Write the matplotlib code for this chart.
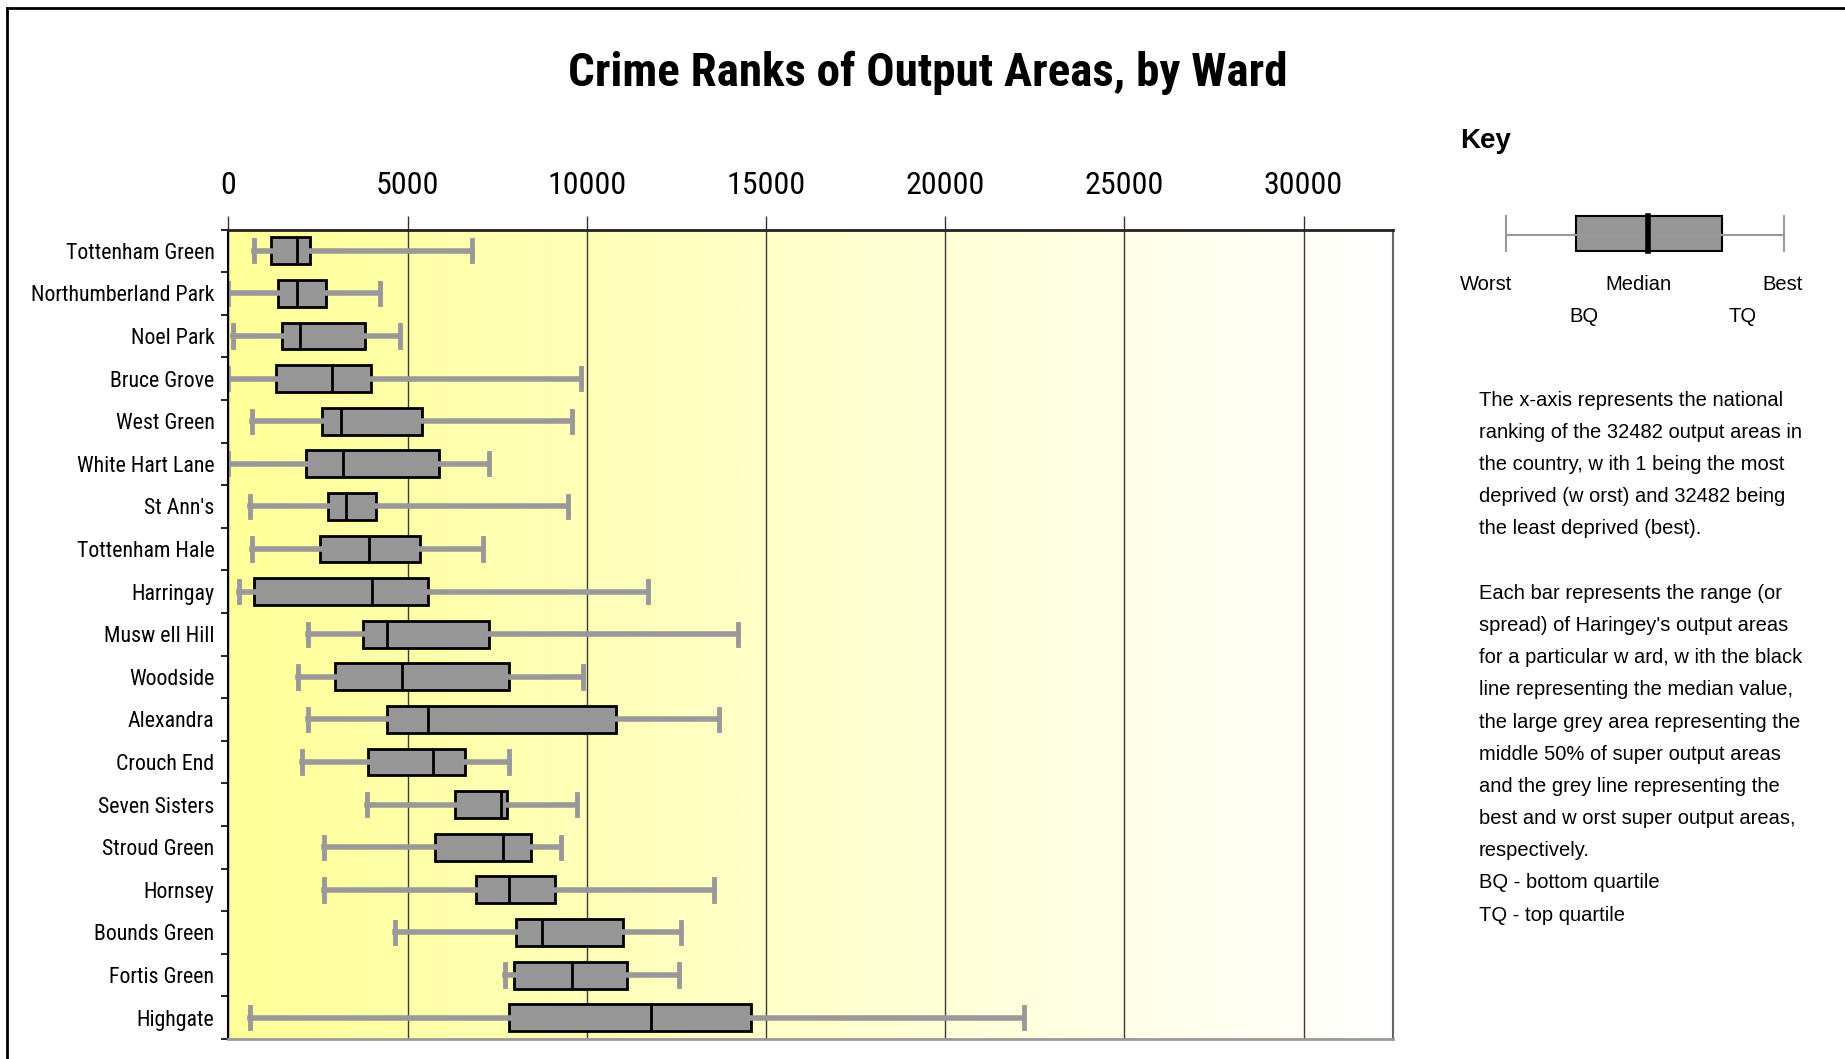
import os
import numpy as np
import matplotlib
matplotlib.use("Agg")
import matplotlib.pyplot as plt
from matplotlib import font_manager
from matplotlib.font_manager import FontProperties
from matplotlib.colors import LinearSegmentedColormap
from matplotlib.lines import Line2D
from matplotlib.patches import Rectangle

# Donnees (rangs nationaux, 1 = le pire)
wards = ["Tottenham Green", "Northumberland Park", "Noel Park", "Bruce Grove",
         "West Green", "White Hart Lane", "St Ann's", "Tottenham Hale",
         "Harringay", "Musw ell Hill", "Woodside", "Alexandra", "Crouch End",
         "Seven Sisters", "Stroud Green", "Hornsey", "Bounds Green",
         "Fortis Green", "Highgate"]
worst = [720, 1, 140, 1, 660, 1, 610, 670, 310, 2210, 1950, 2210, 2060,
         3870, 2670, 2670, 4640, 7730, 610]
bq = [1185, 1385, 1485, 1335, 2620, 2158, 2782, 2570, 711, 3755, 2982,
      4429, 3905, 6324, 5762, 6898, 8040, 7982, 7832]
median = [1909, 1909, 1996, 2882, 3144, 3194, 3294, 3918, 4017, 4417,
          4841, 5565, 5714, 7620, 7670, 7832, 8756, 9579, 11800]
tq = [2271, 2732, 3818, 3968, 5415, 5876, 4117, 5352, 5565, 7265, 7832,
      10826, 6598, 7783, 8456, 9117, 11025, 11125, 14576]
best = [6812, 4242, 4803, 9844, 9594, 7274, 9482, 7112, 11703, 14210,
        9890, 13700, 7832, 9740, 9270, 13540, 12625, 12565, 22207]
xticks = [0, 5000, 10000, 15000, 20000, 25000, 30000]
n_areas = 32482

notes = ["The x-axis represents the national",
         "ranking of the 32482 output areas in",
         "the country, w ith 1 being the most",
         "deprived (w orst) and 32482 being",
         "the least deprived (best).",
         "",
         "Each bar represents the range (or",
         "spread) of Haringey's output areas",
         "for a particular w ard, w ith the black",
         "line representing the median value,",
         "the large grey area representing the",
         "middle 50% of super output areas",
         "and the grey line representing the",
         "best and w orst super output areas,",
         "respectively.",
         "BQ - bottom quartile",
         "TQ - top quartile"]

SANS = ["Liberation Sans", "DejaVu Sans"]
W, H = 1845, 1059


def narrow_font(bold):
    """ Cherche une police etroite (type Arial Narrow) installee """
    prefs = ["liberationsansnarrow", "arialn", "arial narrow", "robotocondensed",
             "notosans-condensed", "notosanscondensed", "opensans-condensed",
             "opensanscondensed", "condensed", "narrow"]
    found = []
    for f in font_manager.fontManager.ttflist:
        base = os.path.basename(f.fname).lower()
        if "narrow" not in base and "condensed" not in base:
            continue
        if "italic" in base or "oblique" in base:
            continue
        if "mono" in base or "serif" in base:
            continue
        is_bold = "bold" in base and "semibold" not in base and "extrabold" not in base
        if bold != is_bold:
            continue
        if not bold and any(k in base for k in ("light", "thin", "medium", "black", "semibold", "extrabold")):
            continue
        rank = next((i for i, p in enumerate(prefs) if p in base), len(prefs))
        found.append((rank, f.fname))
    if found:
        return FontProperties(fname=sorted(found)[0][1])
    return FontProperties(family=SANS, weight="bold" if bold else "normal")


FP = narrow_font(False)
FPB = narrow_font(True)


def px(x, y):
    """ pixels (origine en haut a gauche) -> fraction de la figure """
    return x / W, 1 - y / H


fig = plt.figure(figsize=(W / 100, H / 100), dpi=100)
fig.patch.set_facecolor("white")
renderer = fig.canvas.get_renderer()


def fit_size(text, fp, target, size=20):
    """ taille de police pour que le texte ait la largeur voulue (px) """
    t = fig.text(0, 0, text, fontproperties=fp, fontsize=size)
    w = t.get_window_extent(renderer).width
    t.remove()
    return size * target / w


size_title = fit_size("Crime Ranks of Output Areas, by Ward", FPB, 718)
size_x = fit_size("10000", FP, 79)
size_y = fit_size("Northumberland Park", FP, 184)

left, right, top, bottom = 228.3, 1392.5, 229.5, 1039
ax = fig.add_axes([left / W, 1 - bottom / H, (right - left) / W, (bottom - top) / H])

n = len(wards)
ypos = np.arange(n)

# fond degrade jaune -> blanc
grad = LinearSegmentedColormap.from_list("jaune", ["#ffff99", "#ffffff"])
ax.imshow(np.linspace(0, 1, 256).reshape(1, -1), extent=[0, n_areas, n - 0.5, -0.5],
          aspect="auto", cmap=grad, zorder=0, interpolation="bicubic")

stats = []
for i in range(n):
    stats.append({"label": wards[i], "whislo": worst[i], "q1": bq[i],
                  "med": median[i], "q3": tq[i], "whishi": best[i]})

ax.bxp(stats, positions=ypos, orientation="horizontal", widths=0.63,
       capwidths=0.5, patch_artist=True, showfliers=False,
       boxprops=dict(facecolor="#969696", edgecolor="black", linewidth=2),
       medianprops=dict(color="black", linewidth=2),
       whiskerprops=dict(color="#999999", linewidth=4),
       capprops=dict(color="#999999", linewidth=3.5))

ax.set_xlim(0, n_areas)
ax.set_ylim(n - 0.5, -0.5)

ax.set_xticks(xticks)
ax.set_xticklabels([str(t) for t in xticks], fontproperties=FP, fontsize=size_x)
ax.xaxis.set_ticks_position("top")
ax.tick_params(axis="x", top=True, bottom=False, labeltop=True, labelbottom=False,
               length=10, width=1, color="#333333", pad=11)

ax.set_yticks(ypos)
ax.set_yticklabels(wards, fontproperties=FP, fontsize=size_y)
ax.set_yticks(np.arange(n + 1) - 0.5, minor=True)
ax.tick_params(axis="y", which="major", length=0, pad=10)
ax.tick_params(axis="y", which="minor", length=5, width=1.2, color="black")

ax.xaxis.grid(True, color="#3a3a3a", linewidth=1)
ax.set_axisbelow(True)

ax.spines["top"].set_color("#222222")
ax.spines["top"].set_linewidth(2)
ax.spines["left"].set_color("black")
ax.spines["left"].set_linewidth(1.5)
ax.spines["right"].set_color("#666666")
ax.spines["right"].set_linewidth(1.5)
ax.spines["bottom"].set_color("#999999")
ax.spines["bottom"].set_linewidth(2)

# titre
fig.text(*px(928, 73), "Crime Ranks of Output Areas, by Ward", ha="center", va="center",
         fontproperties=FPB, fontsize=size_title)

# cle
fig.text(*px(1460, 141), "Key", ha="left", va="center", fontsize=20, weight="bold", family=SANS)
grey = "#999999"
x0, y0 = px(1506, 235)
x1, _ = px(1784, 235)
fig.add_artist(Line2D([x0, x1], [y0, y0], color=grey, lw=1.5))
for xc in (1506, 1784):
    cx, cy0 = px(xc, 216)
    _, cy1 = px(xc, 251)
    fig.add_artist(Line2D([cx, cx], [cy0, cy1], color=grey, lw=1.5))
bx, by = px(1576, 251)
fig.add_artist(Rectangle((bx, by), 146 / W, 35 / H, facecolor="#969696",
                         edgecolor="black", lw=1.5))
mx, my0 = px(1647.7, 216)
_, my1 = px(1647.7, 251)
fig.add_artist(Line2D([mx, mx], [my0, my1], color="black", lw=4))

for txt, xc, yc in [("Worst", 1486, 284), ("Median", 1638, 284), ("Best", 1783, 284),
                    ("BQ", 1584, 316), ("TQ", 1743, 316)]:
    fig.text(*px(xc, yc), txt, ha="center", va="center", fontsize=14.5, family=SANS)

# texte explicatif
for k, line in enumerate(notes):
    fig.text(*px(1479, 400 + 32.2 * k), line, ha="left", va="center",
             fontsize=14.5, family=SANS)

# cadre exterieur
fig.add_artist(Line2D([7 / W, 1], [1 - 8 / H, 1 - 8 / H], color="black", lw=2))
fig.add_artist(Line2D([7 / W, 7 / W], [0, 1 - 8 / H], color="black", lw=2))

plt.savefig("out.png", dpi=100)
